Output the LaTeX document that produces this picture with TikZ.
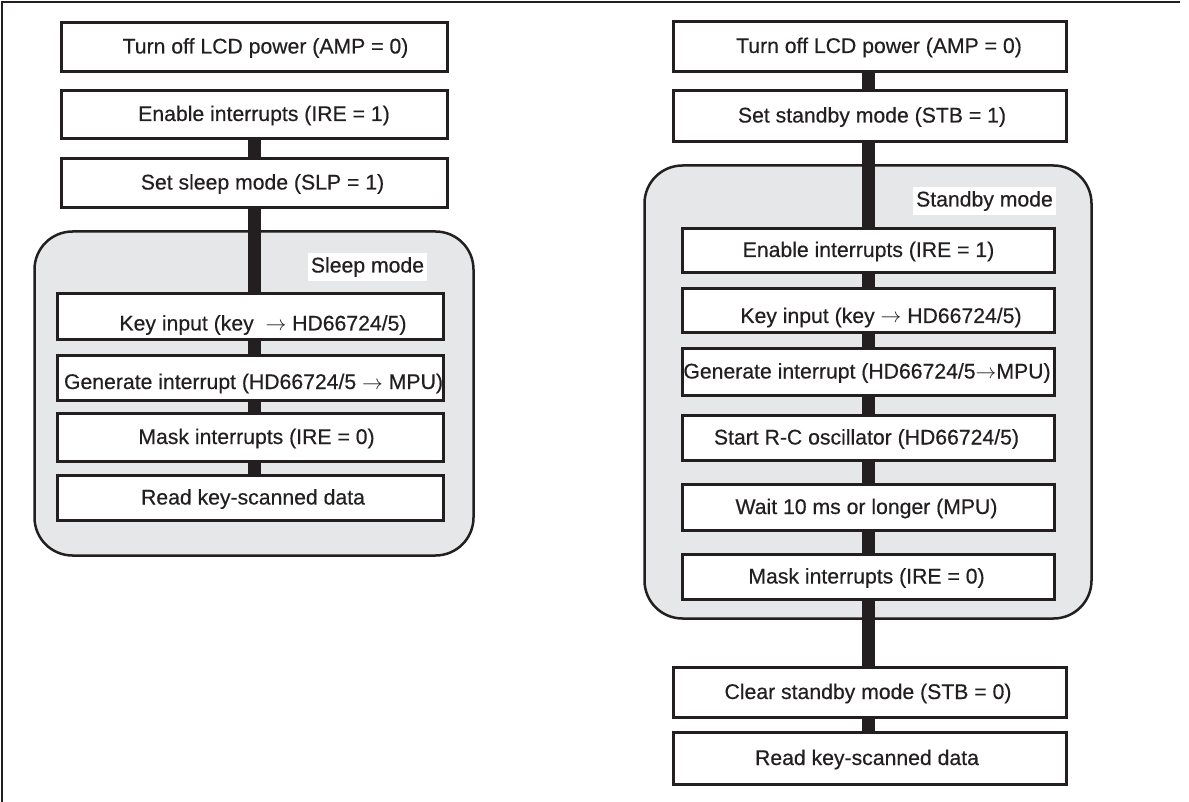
\documentclass[tikz,border=0pt]{standalone}
\usepackage{fontspec}
\setmainfont{Liberation Sans}[FakeBold=0.4]
\definecolor{ink}{HTML}{231F20}
\definecolor{panel}{HTML}{E6E7E8}
\begin{document}
\begin{tikzpicture}[x=1pt,y=-1pt,
  stepbox/.style={draw=ink, line width=3pt, fill=white, inner xsep=0pt, inner ysep=0pt,
    text height=18pt, text depth=5pt, font=\fontsize{21.2}{25}\selectfont, text=ink},
  outerw/.style={minimum width=386pt},
  routerw/.style={minimum width=393pt},
  innerw/.style={minimum width=386pt},
  rinnerw/.style={minimum width=372pt},
  sh/.style={execute at begin node={\hspace*{#1}}},
  group/.style={draw=ink, line width=2.5pt, fill=panel, rounded corners=38pt, inner sep=0pt},
  tag/.style={fill=white, inner xsep=3pt, inner ysep=4pt, font=\fontsize{21.2}{25}\selectfont, text=ink},
  link/.style={draw=ink, line width=13pt},
  frame/.style={draw=ink, line width=2pt}
]
\useasboundingbox (0,0) rectangle (1189,802);
\draw[frame] (1180,2) -- (2,2) -- (2,802);

% ---------- left column ----------
\node[group, minimum width=439pt, minimum height=324pt] (sleep) at (254,393.5) {};
\node[tag] (sleeplbl) at (367.5,267) {Sleep mode};

\node[stepbox, outerw, minimum height=49pt, sh=22pt] (L1) at (254.5,47) {Turn off LCD power (AMP = 0)};
\node[stepbox, outerw, minimum height=48pt, sh=19pt] (L2) at (254.5,114.5) {Enable interrupts (IRE = 1)};
\node[stepbox, outerw, minimum height=49pt, sh=16pt] (L3) at (254.5,183) {Set sleep mode (SLP = 1)};
\node[stepbox, innerw, minimum height=46pt, sh=25pt, text height=33pt] (LK) at (250.5,316.5) {Key input (key\ \ $\rightarrow$ HD66724/5)};
\node[stepbox, innerw, minimum height=45pt, sh=6pt, text height=27pt] (LG) at (250.5,378) {Generate interrupt (HD66724/5 $\rightarrow$ MPU)};
\node[stepbox, innerw, minimum height=48pt, sh=12pt] (LM) at (250.5,437.5) {Mask interrupts (IRE = 0)};
\node[stepbox, innerw, minimum height=45pt, sh=5pt] (LR) at (250.5,498) {Read key-scanned data};

\coordinate (lc) at (254.5,0);
\draw[link] (lc |- L2.south) -- (lc |- L3.north);
\draw[link] (lc |- L3.south) -- (lc |- LK.north);
\draw[link] (lc |- LK.south) -- (lc |- LG.north);
\draw[link] (lc |- LG.south) -- (lc |- LM.north);
\draw[link] (lc |- LM.south) -- (lc |- LR.north);

% ---------- right column ----------
\node[group, minimum width=447pt, minimum height=453pt] (standby) at (868,392) {};
\node[tag] (standbylbl) at (984.5,201) {Standby mode};

\node[stepbox, routerw, minimum height=50pt, sh=18pt] (R1) at (870,46.5) {Turn off LCD power (AMP = 0)};
\node[stepbox, routerw, minimum height=51pt, sh=4pt] (R2) at (870,116) {Set standby mode (STB = 1)};
\node[stepbox, rinnerw, minimum height=44pt] (RE) at (868.5,250.5) {Enable interrupts (IRE = 1)};
\node[stepbox, rinnerw, minimum height=44pt, sh=25pt, text height=30pt] (RK) at (868.5,310.5) {Key input (key $\rightarrow$ HD66724/5)};
\node[stepbox, rinnerw, minimum height=47pt, sh=-3pt] (RG) at (868.5,372) {Generate interrupt (HD66724/5$\rightarrow$MPU)};
\node[stepbox, rinnerw, minimum height=45pt, sh=-4pt] (RS) at (868.5,438) {Start R-C oscillator (HD66724/5)};
\node[stepbox, rinnerw, minimum height=46pt, sh=-4pt] (RW) at (868.5,507.5) {Wait 10 ms or longer (MPU)};
\node[stepbox, rinnerw, minimum height=45pt, sh=-4pt] (RM) at (868.5,577) {Mask interrupts (IRE = 0)};
\node[stepbox, routerw, minimum height=50pt, sh=-4pt] (RC) at (870,692.5) {Clear standby mode (STB = 0)};
\node[stepbox, routerw, minimum height=52pt, sh=-6pt] (RR) at (870,758.5) {Read key-scanned data};

\coordinate (rc) at (868.5,0);
\draw[link] (rc |- R1.south) -- (rc |- R2.north);
\draw[link] (rc |- R2.south) -- (rc |- RE.north);
\draw[link] (rc |- RE.south) -- (rc |- RK.north);
\draw[link] (rc |- RK.south) -- (rc |- RG.north);
\draw[link] (rc |- RG.south) -- (rc |- RS.north);
\draw[link] (rc |- RS.south) -- (rc |- RW.north);
\draw[link] (rc |- RW.south) -- (rc |- RM.north);
\draw[link] (rc |- RM.south) -- (rc |- RC.north);
\draw[link] (rc |- RC.south) -- (rc |- RR.north);
\end{tikzpicture}
\end{document}
